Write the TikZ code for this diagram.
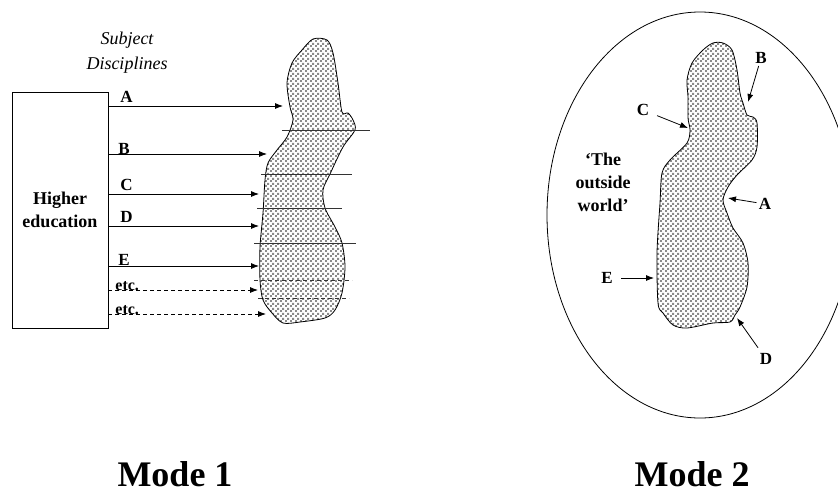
\documentclass[tikz,border=0pt]{standalone}
\usepackage{fontspec}
\setmainfont{Liberation Serif}
\usetikzlibrary{arrows.meta,patterns}

% gravel fill of the two blobs
\pgfdeclarepatternformonly{speckle}{\pgfpointorigin}{\pgfqpoint{5pt}{5pt}}{\pgfqpoint{5pt}{5pt}}{%
	\pgfpathrectangle{\pgfqpoint{0pt}{0pt}}{\pgfqpoint{2.3pt}{2.3pt}}%
	\pgfpathrectangle{\pgfqpoint{2.5pt}{2.5pt}}{\pgfqpoint{2.3pt}{2.3pt}}%
	\pgfusepath{fill}}

\begin{document}
\begin{tikzpicture}[x=1pt, y=-1pt, line width=0.8pt,
		tip/.style={-{Latex[length=8pt,width=6pt]}},
		letter/.style={font=\fontsize{17}{20}\selectfont\bfseries, inner sep=2pt},
		blob/.style={draw, pattern=speckle, pattern color=black!45, line join=round},
		cut/.style={draw=black!80}]
	\useasboundingbox ( 0, 0 ) rectangle ( 838, 491 );

	% mode 1: higher education and its disciplines
	\node [draw, minimum width=96pt, minimum height=236pt, align=center, font=\fontsize{18}{23}\selectfont\bfseries] (hed) at ( 60, 210 ) {Higher\\education};
	\node [font=\fontsize{18}{25}\selectfont\itshape, align=center] (subj) at ( 127, 53 ) {Subject\\Disciplines};

	\draw [blob] plot [smooth cycle, tension=0.5] coordinates {
		( 313, 39 ) ( 327, 40 ) ( 333, 53 ) ( 338, 83 ) ( 342, 112 ) ( 348, 113 ) ( 353, 120 ) ( 355, 130 )
		( 343, 147 ) ( 330, 174 ) ( 323, 190 ) ( 325, 208 ) ( 335, 227 ) ( 342, 243 ) ( 345, 267 ) ( 342, 293 )
		( 335, 310 ) ( 325, 318 ) ( 300, 322 ) ( 283, 323 ) ( 272, 313 ) ( 263, 300 ) ( 260, 280 ) ( 260, 247 )
		( 263, 213 ) ( 265, 180 ) ( 268, 163 ) ( 277, 150 ) ( 287, 137 ) ( 293, 120 ) ( 290, 107 ) ( 287, 83 )
		( 292, 63 ) ( 302, 50 ) };

	% slices of the blob
	\draw [cut] ( 282, 130 ) -- ( 370, 130 );
	\draw [cut] ( 261, 174 ) -- ( 352, 174 );
	\draw [cut] ( 257, 208 ) -- ( 342, 208 );
	\draw [cut] ( 254, 243 ) -- ( 356, 243 );
	\draw [cut, dash pattern=on 4pt off 3pt] ( 254, 280 ) -- ( 352, 280 );
	\draw [cut, dash pattern=on 4pt off 3pt] ( 258, 298 ) -- ( 349, 298 );

	% arrows into the blob
	\coordinate (tA) at ( 283, 106 );
	\coordinate (tB) at ( 267, 154 );
	\coordinate (tC) at ( 259, 194 );
	\coordinate (tD) at ( 259, 226 );
	\coordinate (tE) at ( 259, 266 );
	\coordinate (tF) at ( 258, 290 );
	\coordinate (tG) at ( 266, 314 );
	\draw [tip] (hed.east |- tA) -- (tA);
	\draw [tip] (hed.east |- tB) -- (tB);
	\draw [tip] (hed.east |- tC) -- (tC);
	\draw [tip] (hed.east |- tD) -- (tD);
	\draw [tip] (hed.east |- tE) -- (tE);
	\draw [tip, dash pattern=on 4pt off 3pt] (hed.east |- tF) -- (tF);
	\draw [tip, dash pattern=on 4pt off 3pt] (hed.east |- tG) -- (tG);
	\node [letter, anchor=base west] (lA) at ( 118, 102 ) {A};
	\node [letter, anchor=base west] (lB) at ( 116, 154 ) {B};
	\node [letter, anchor=base west] (lC) at ( 118, 190 ) {C};
	\node [letter, anchor=base west] (lD) at ( 118, 222 ) {D};
	\node [letter, anchor=base west] (lE) at ( 116, 265 ) {E};
	\node [letter, font=\fontsize{16}{18}\selectfont\bfseries, anchor=base west] (lF) at ( 113, 290 ) {etc.};
	\node [letter, font=\fontsize{16}{18}\selectfont\bfseries, anchor=base west] (lG) at ( 113, 314 ) {etc.};

	% mode 2: the outside world
	\draw ( 700, 215 ) ellipse [x radius=153pt, y radius=203pt];
	\node [font=\fontsize{18}{23}\selectfont\bfseries, align=center] (world) at ( 603, 182 ) {‘The\\outside\\world’};

	\draw [blob] plot [smooth cycle, tension=0.5] coordinates {
		( 713, 43 ) ( 723, 43 ) ( 732, 50 ) ( 737, 70 ) ( 740, 93 ) ( 743, 103 ) ( 747, 115 ) ( 753, 117 )
		( 757, 123 ) ( 757, 147 ) ( 752, 160 ) ( 737, 175 ) ( 728, 187 ) ( 723, 200 ) ( 727, 213 ) ( 733, 228 )
		( 743, 243 ) ( 748, 263 ) ( 747, 287 ) ( 740, 307 ) ( 735, 315 ) ( 730, 322 ) ( 713, 323 ) ( 687, 328 )
		( 673, 325 ) ( 663, 313 ) ( 658, 303 ) ( 657, 253 ) ( 660, 203 ) ( 662, 173 ) ( 670, 160 ) ( 687, 143 )
		( 690, 130 ) ( 688, 118 ) ( 688, 97 ) ( 687, 80 ) ( 692, 63 ) ( 703, 50 ) };

	% where the disciplines meet the world
	\node [letter] (mA) at ( 765, 204 ) {A};
	\node [letter] (mB) at ( 761, 58 ) {B};
	\node [letter] (mC) at ( 643, 110 ) {C};
	\node [letter] (mD) at ( 766, 359 ) {D};
	\node [letter] (mE) at ( 607, 278 ) {E};
	\coordinate (eA) at ( 728, 198 );
	\coordinate (eB) at ( 748, 102 );
	\coordinate (eC) at ( 688, 128 );
	\coordinate (eD) at ( 737, 318 );
	\coordinate (eE) at ( 654, 278 );
	\draw [tip] (mA) -- (eA);
	\draw [tip] (mB) -- (eB);
	\draw [tip, shorten <=6pt] (mC) -- (eC);
	\draw [tip, shorten <=4pt] (mD) -- (eD);
	\draw [tip, shorten <=6pt] (mE) -- (eE);

	% captions
	\node [font=\fontsize{36}{40}\selectfont\bfseries, anchor=base, inner sep=0pt, text depth=0pt] (cap1) at ( 175, 486 ) {Mode 1};
	\node [font=\fontsize{36}{40}\selectfont\bfseries, anchor=base, inner sep=0pt, text depth=0pt] (cap2) at ( 692, 486 ) {Mode 2};
\end{tikzpicture}
\end{document}
